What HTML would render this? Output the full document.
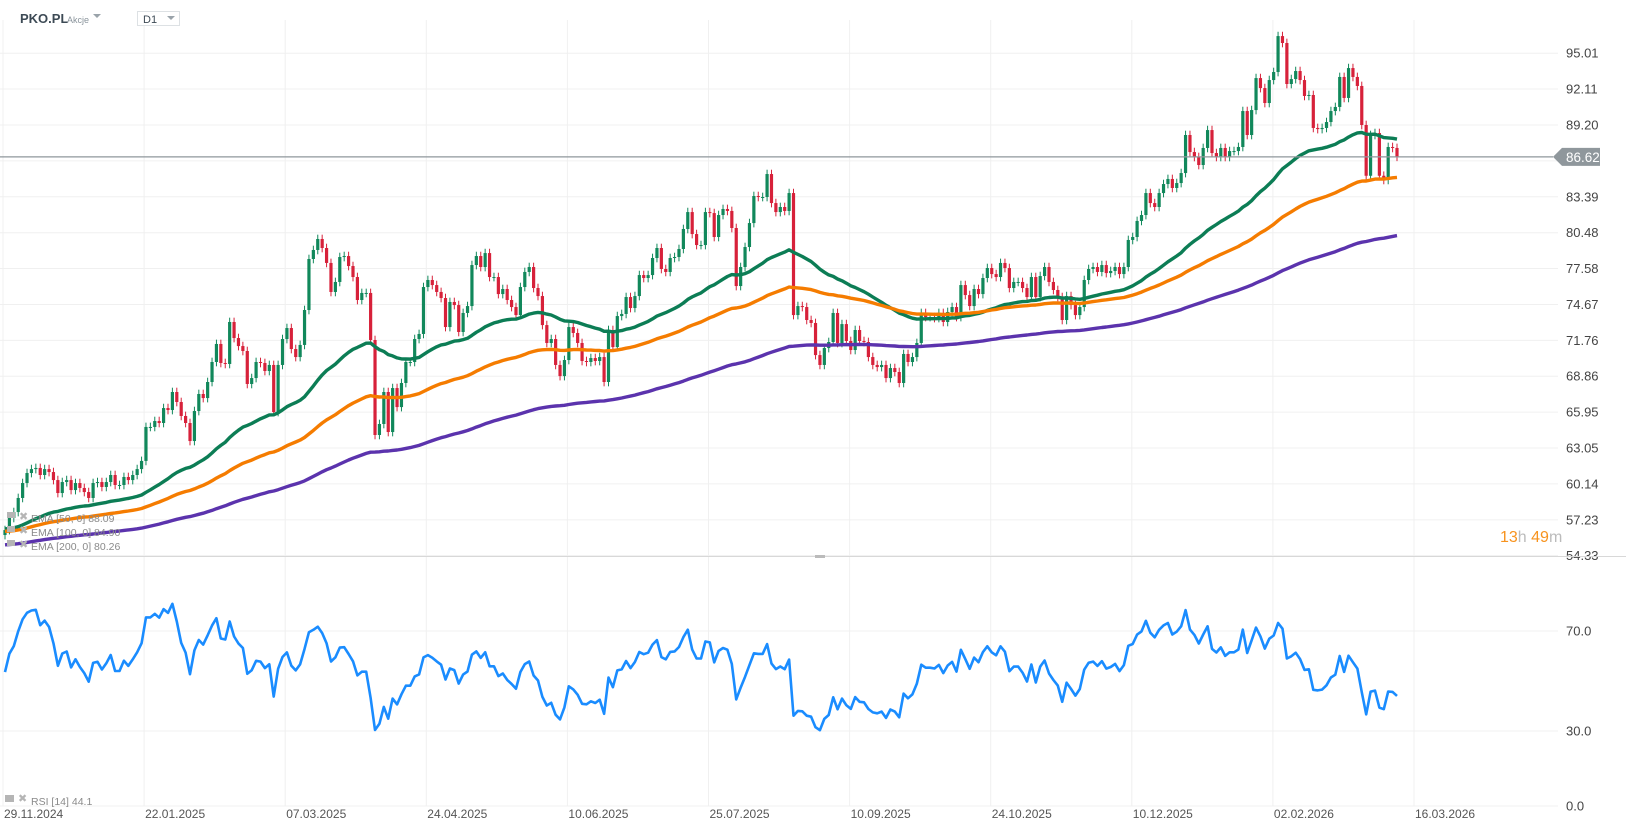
<!DOCTYPE html>
<html><head><meta charset="utf-8"><title>PKO.PL D1</title>
<style>
html,body{margin:0;padding:0;background:#fff;}
body{width:1626px;height:831px;overflow:hidden;font-family:"Liberation Sans",sans-serif;position:relative;}
svg{position:absolute;left:0;top:0;}
</style></head><body>
<svg id="chart" width="1626" height="831" viewBox="0 0 1626 831" xmlns="http://www.w3.org/2000/svg">
<g id="grid"></g>
<g id="candles"></g>
<g id="emas"></g>
<g id="rsi"></g>
<g id="axes"></g>
<g>
  <text x="20" y="23" font-size="13" font-weight="bold" fill="#3d4a55">PKO.PL</text>
  <text x="67" y="23" font-size="9" fill="#8a949c">Akcje</text>
  <path d="M93 14 L101 14 L97 18 Z" fill="#9aa3aa"/>
  <rect x="137.5" y="11.5" width="42" height="14" fill="#fff" stroke="#dde1e4"/>
  <text x="143" y="23" font-size="11" fill="#3d4a55">D1</text>
  <path d="M167 16 L175 16 L171 20 Z" fill="#9aa3aa"/>
</g>
<g font-size="10.5" fill="#8a8a8a">
  <rect x="7" y="512" width="8" height="6" fill="#b5b5b5"/><text x="19" y="520" font-size="11" fill="#b5b5b5">✖</text>
  <text x="31" y="522">EMA  [50,  0]  88.09</text>
  <rect x="7" y="526" width="8" height="6" fill="#b5b5b5"/><text x="19" y="534" font-size="11" fill="#b5b5b5">✖</text>
  <text x="31" y="536">EMA  [100,  0]  84.90</text>
  <rect x="7" y="540" width="8" height="6" fill="#b5b5b5"/><text x="19" y="548" font-size="11" fill="#b5b5b5">✖</text>
  <text x="31" y="550">EMA  [200,  0]  80.26</text>
</g>
<g font-size="10.5" fill="#8a8a8a">
  <rect x="5" y="795" width="9" height="7" fill="#b5b5b5"/><text x="18" y="802" font-size="11" fill="#b5b5b5">✖</text>
  <text x="31" y="805">RSI  [14]  44.1</text>
</g>
<g font-size="16">
  <text x="1500" y="542"><tspan fill="#f7931e">13</tspan><tspan fill="#bbbbbb">h</tspan><tspan fill="#f7931e"> 49</tspan><tspan fill="#bbbbbb">m</tspan></text>
</g>
</svg>
<script>
// ---------- data ----------
const closes = [
56.4,57.38,57.86,59.0,60.21,61.02,61.34,61.43,60.86,61.34,61.1,60.45,59.4,60.29,60.45,59.64,60.21,59.81,59.48,59.0,60.21,60.29,59.89,60.29,60.86,60.05,60.05,60.7,60.45,60.86,61.34,62.0,64.75,
64.75,65.23,65.07,66.28,66.12,67.58,66.77,65.64,65.07,63.61,66.04,67.42,67.09,68.39,70.01,71.47,69.93,69.85,73.25,71.95,71.3,70.9,68.23,68.71,70.01,69.93,69.28,69.77,65.96,69.77,71.87,72.76,71.06,70.41,71.39,74.22,78.35,79.08,79.97,79.24,78.03,75.68,76.49,78.51,78.59,77.78,76.89,75.03,
75.6,75.6,71.79,64.1,64.99,67.58,64.34,67.9,66.36,68.31,70.01,70.01,71.87,72.28,76.08,76.65,76.24,75.68,75.19,72.84,74.87,74.62,72.44,73.98,74.54,77.86,78.59,77.7,78.83,76.89,76.89,75.51,75.92,75.03,74.46,73.81,76.08,77.3,77.7,76.0,75.35,73.0,71.55,71.87,69.77,68.87,70.17,72.84,72.36,71.55,70.09,70.01,70.33,70.09,70.41,68.39,72.6,71.22,73.73,73.9,75.27,74.38,75.35,77.05,76.81,77.05,78.43,79.24,77.54,77.3,78.43,78.51,79.16,80.78,82.15,80.37,79.48,79.48,82.15,82.07,80.13,81.91,82.4,82.24,80.86,76.16,77.7,79.32,81.26,83.45,83.37,83.37,85.23,82.88,82.15,82.56,82.24,83.69,
73.81,74.54,74.46,73.41,73.17,70.57,69.77,71.14,71.63,73.98,71.55,73.08,71.71,70.98,72.6,71.71,71.63,70.41,69.77,69.6,69.77,68.71,69.52,69.2,68.31,70.66,70.01,70.41,71.55,73.98,73.65,73.65,73.57,73.98,73.25,74.06,74.46,73.65,76.24,75.43,74.54,75.92,75.51,76.81,77.62,77.13,76.89,78.03,77.62,76.0,76.49,76.49,76.0,75.27,76.89,75.27,76.97,77.7,76.49,75.84,75.27,73.41,75.35,74.62,73.81,74.46,76.65,77.54,77.7,77.3,77.86,77.21,77.38,77.7,77.13,77.7,79.89,80.13,81.43,81.91,83.69,82.88,82.56,83.69,84.42,84.83,84.1,84.5,85.31,88.39,
87.01,86.61,85.96,87.34,88.79,86.93,86.61,87.34,86.61,87.09,87.09,87.42,90.33,88.39,90.41,93.0,92.19,90.98,92.84,93.49,96.4,95.84,92.52,92.92,93.57,92.84,91.55,91.63,88.96,88.87,88.96,89.44,90.33,90.66,93.09,91.39,93.81,93.09,92.36,
89.2,85.09,88.39,88.55,85.09,84.75,87.42,87.34,86.62
];
const firstOpen = [56.0];
const emaPeriods = [50, 100, 200];
const emaSeeds = [56.5, 56.3, 55.2];
const emaColors = ['#0c7d55', '#f57c00', '#5b33ad'];
const priceTicks = [95.01, 92.11, 89.20, 86.30, 83.39, 80.48, 77.58, 74.67, 71.76, 68.86, 65.95, 63.05, 60.14, 57.23, 54.33];
const priceTickLabels = ['95.01','92.11','89.20','86.30','83.39','80.48','77.58','74.67','71.76','68.86','65.95','63.05','60.14','57.23','54.33'];
const rsiTicks = [70, 30, 0];
const rsiTickLabels = ['70.0', '30.0', '0.0'];
const dateLabels = ['29.11.2024','22.01.2025','07.03.2025','24.04.2025','10.06.2025','25.07.2025','10.09.2025','24.10.2025','10.12.2025','02.02.2026','16.03.2026'];
const lastPrice = 86.62;
const rsiSeed = [0.2, 0.2];

// ---------- scales ----------
const NS = 'http://www.w3.org/2000/svg';
const N = closes.length;
const X0 = 5, X1 = 1397;
const step = (X1 - X0) / (N - 1);
const xOf = i => X0 + i * step;
const yP = v => 125 + (89.20 - v) * 12.35;
const yR = v => 806 - v * 2.5;
const dateX = k => 3 + k * 141.1;
function mk(tag, attrs, parent) {
  const e = document.createElementNS(NS, tag);
  for (const k in attrs) e.setAttribute(k, attrs[k]);
  parent.appendChild(e);
  return e;
}
const gGrid = document.getElementById('grid');
const gC = document.getElementById('candles');
const gE = document.getElementById('emas');
const gR = document.getElementById('rsi');
const gA = document.getElementById('axes');

priceTicks.forEach((v, i) => {
  const l = mk('line', {x1: 0, x2: 1558, y1: yP(v), y2: yP(v), stroke: '#f0f0f0', 'stroke-width': 1}, gGrid);
  
  
  const t = mk('text', {x: 1566, y: yP(v) + 4.5, 'font-size': 13, fill: '#444'}, gA);
  t.textContent = priceTickLabels[i];
  
  
});
rsiTicks.forEach((v, i) => {
  const l = mk('line', {x1: 0, x2: 1558, y1: yR(v), y2: yR(v), stroke: '#f0f0f0', 'stroke-width': 1}, gGrid);
  
  
  const t = mk('text', {x: 1566, y: yR(v) + 4.5, 'font-size': 13, fill: '#444'}, gA);
  t.textContent = rsiTickLabels[i];
  
  
});
dateLabels.forEach((d, k) => {
  const x = dateX(k);
  const l = mk('line', {x1: x, x2: x, y1: 20, y2: 806, stroke: '#f0f0f0', 'stroke-width': 1}, gGrid);
  
  
  const t = mk('text', {x: x + 1, y: 818, 'font-size': 12, fill: '#555'}, gA);
  t.textContent = d;
  
  
});
const sep = mk('line', {x1: 0, x2: 1626, y1: 556.5, y2: 556.5, stroke: '#d8d8d8', 'stroke-width': 1}, gA);


const hnd = mk('rect', {x: 815, y: 555, width: 10, height: 3, fill: '#bbb'}, gA);



for (let i = 0; i < N; i++) {
  const o = i === 0 ? firstOpen[0] : closes[i - 1];
  const c = closes[i];
  const up = c >= o;
  const col = up ? '#11885b' : '#d7213a';
  const hi = Math.max(o, c) + 0.35, lo = Math.min(o, c) - 0.35;
  const x = xOf(i);
  const w = mk('line', {x1: x, x2: x, y1: yP(hi), y2: yP(lo), stroke: col, 'stroke-width': 1}, gC);
  
  
  const top = yP(Math.max(o, c)), bot = yP(Math.min(o, c));
  const b = mk('rect', {x: x - 1.6, y: top, width: 3.2, height: Math.max(1, bot - top), fill: col}, gC);
  
  
}

emaPeriods.forEach((p, k) => {
  const a = 2 / (p + 1);
  let e = emaSeeds[k];
  const pts = [];
  for (let i = 0; i < N; i++) {
    e = e + a * (closes[i] - e);
    pts.push(xOf(i).toFixed(1) + ',' + yP(e).toFixed(1));
  }
  const pl = mk('polyline', {points: pts.join(' '), fill: 'none', stroke: emaColors[k], 'stroke-width': 3.4, 'stroke-linejoin': 'round'}, gE);
  
  
});

(function () {
  let ag = rsiSeed[0], al = rsiSeed[1];
  const pts = [];
  for (let i = 0; i < N; i++) {
    const prev = i === 0 ? firstOpen[0] : closes[i - 1];
    const d = closes[i] - prev;
    ag = (ag * 13 + Math.max(d, 0)) / 14;
    al = (al * 13 + Math.max(-d, 0)) / 14;
    const r = al === 0 ? 100 : 100 - 100 / (1 + ag / al);
    pts.push(xOf(i).toFixed(1) + ',' + yR(r).toFixed(1));
  }
  const pl = mk('polyline', {points: pts.join(' '), fill: 'none', stroke: '#1a8cff', 'stroke-width': 2.6, 'stroke-linejoin': 'round'}, gR);
  
  
})();

(function () {
  const y = yP(lastPrice);
  const l = mk('line', {x1: 0, x2: 1553, y1: y, y2: y, stroke: '#8f979c', 'stroke-width': 1.2}, gA);
  
  
  const tag = mk('path', {d: `M1553 ${y} L1562 ${y - 9} L1600 ${y - 9} L1600 ${y + 9} L1562 ${y + 9} Z`, fill: '#8f979c'}, gA);
  
  
  const t = mk('text', {x: 1566, y: y + 5, 'font-size': 13.5, fill: '#fff'}, gA);
  t.textContent = lastPrice.toFixed(2);
  
  
})();
</script>
</body></html>
